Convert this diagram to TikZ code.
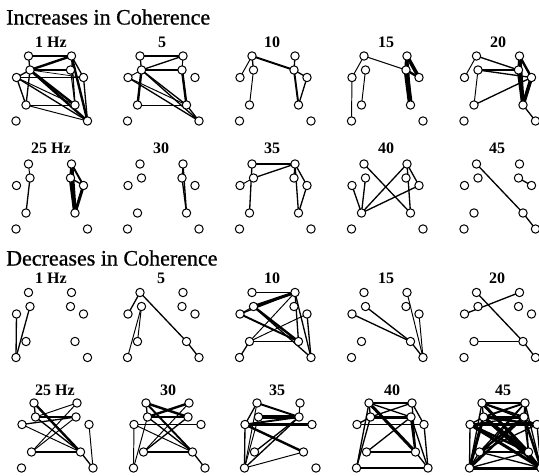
\documentclass[tikz,border=0pt]{standalone}
\usepackage{fontspec}
\setmainfont{Liberation Serif}
\newfontfamily\ttlfont[FakeBold=0.8]{Liberation Serif}
\pgfdeclarelayer{bg}
\pgfsetlayers{bg,main}
\tikzset{
 el/.style={circle,draw,fill=white,line width=1pt,minimum size=8.4pt,inner sep=0pt},
 ttl/.style={anchor=west,inner sep=0pt,font=\ttlfont\fontsize{22}{22}\selectfont},
 lbl/.style={inner sep=0pt,font=\fontsize{16}{16}\selectfont\bfseries}
}
\newcommand{\elec}[3]{%
 \node[el] (#1la) at ({#2-23},{#3}) {};
 \node[el] (#1lb) at ({#2-21.5},{#3+14}) {};
 \node[el] (#1lc) at ({#2-35},{#3+21.5}) {};
 \node[el] (#1ld) at ({#2-25.5},{#3+49}) {};
 \node[el] (#1le) at ({#2-35.5},{#3+65}) {};
 \node[el] (#1ra) at ({#2+20},{#3}) {};
 \node[el] (#1rb) at ({#2+19},{#3+14}) {};
 \node[el] (#1rc) at ({#2+32},{#3+21.5}) {};
 \node[el] (#1rd) at ({#2+23.5},{#3+49}) {};
 \node[el] (#1re) at ({#2+36},{#3+65}) {};
}
\newcommand{\links}[2]{\begin{pgfonlayer}{bg}\foreach \u/\v/\w in {#2}{\draw[line width={1.2*\w pt}] (#1\u.center) -- (#1\v.center);}\end{pgfonlayer}}
\begin{document}
\begin{tikzpicture}[x=1pt,y=-1pt]
\useasboundingbox (0,0) rectangle (539,476);
\node[ttl] (tinc) at (6,17) {Increases in Coherence};
\node[ttl] (tdec) at (6,258) {Decreases in Coherence};
% labels
\node[lbl] (a1) at (51,42) {1 Hz};
\node[lbl] (a2) at (162,42) {5};
\node[lbl] (a3) at (272,42) {10};
\node[lbl] (a4) at (386,42) {15};
\node[lbl] (a5) at (498,42) {20};
\node[lbl] (a6) at (51,148) {25 Hz};
\node[lbl] (a7) at (161,148) {30};
\node[lbl] (a8) at (272,148) {35};
\node[lbl] (a9) at (386,148) {40};
\node[lbl] (a10) at (497,148) {45};
\node[lbl] (b1) at (51,278) {1 Hz};
\node[lbl] (b2) at (161,278) {5};
\node[lbl] (b3) at (272,278) {10};
\node[lbl] (b4) at (386,278) {15};
\node[lbl] (b5) at (497,278) {20};
\node[lbl] (b6) at (55,390) {25 Hz};
\node[lbl] (b7) at (168,390) {30};
\node[lbl] (b8) at (277,390) {35};
\node[lbl] (b9) at (392,390) {40};
\node[lbl] (b10) at (503,390) {45};
% electrodes
\elec{pa}{51.5}{56}\elec{pb}{163}{56}\elec{pc}{275}{56}\elec{pd}{387}{56}\elec{pe}{499.5}{56}
\elec{pf}{51.5}{164}\elec{pg}{163}{164}\elec{ph}{275}{164}\elec{pi}{387}{164}\elec{pj}{499.5}{164}
\elec{qa}{51.5}{292.5}\elec{qb}{163}{292.5}\elec{qc}{275}{292.5}\elec{qd}{387}{292.5}\elec{qe}{499.5}{292.5}
\elec{qf}{57}{403}\elec{qg}{169}{403}\elec{qh}{280}{403}\elec{qi}{392}{403}\elec{qj}{505}{403}
% increases
\links{pa}{la/ra/1.1, la/lb/1.1, lb/ra/2, lb/rb/1.1, lb/rc/0.6, lc/rc/0.8, lb/lc/1.1, lc/ld/1.1, lb/ld/1.1, ld/rd/0.8, lb/rd/2, lb/re/2, lc/re/1.1, lc/rd/0.8, ld/re/0.8, ra/rc/1.1, ra/re/2, ra/rd/1.1, rb/rd/0.8, rc/re/1.1}
\links{pb}{la/ra/1.1, la/lb/1.1, lb/ra/1.1, lb/rb/1.1, lb/ld/2, lb/rd/1.1, lb/re/1.1, lc/re/1.1, lc/rd/0.8, ld/rd/0.8, rb/rd/2, rd/re/1.1, ra/rb/0.8, lc/lb/0.8}
\links{pc}{la/lc/0.8, la/lb/1.1, la/rb/1.6, lb/ld/0.8, ra/rb/1.1, rb/rc/1.1, rb/rd/1.6, rc/rd/1.1}
\links{pd}{la/lc/0.8, la/rb/0.8, lb/ld/0.8, lc/le/0.8, ra/rb/3, ra/rc/3, rb/rc/2, rb/rd/4, ra/rd/2}
\links{pe}{la/lc/0.8, la/rb/1.1, lb/rb/1.6, lb/rc/1.1, lb/ld/0.8, ld/rc/1.1, ra/rb/2, ra/rd/3, ra/rc/2, rb/rd/3, rc/rd/3, rd/re/1.1}
\links{pf}{la/lb/0.8, lb/ld/1.1, ra/rb/2, ra/rc/1.6, ra/rd/3, rb/rd/3, rc/rd/2.5, rb/rc/1.1}
\links{pg}{ra/rb/0.8, ra/rd/1.1, rb/rd/1.1}
\links{ph}{la/ra/1.1, lb/ra/1.1, lc/lb/0.8, la/ld/1.1, ra/rb/1.1, ra/rd/1.1, ra/rc/1.1, rc/rd/1.1}
\links{pi}{lc/ld/1.1, lb/ld/1.1, la/rd/1.1, ld/ra/1.1, ld/rc/1.1, ra/rd/1.1, ra/rc/1.1}
\links{pj}{la/rd/1.1, rb/rc/1.1, rd/re/1.1}
% decreases
\links{qa}{lc/le/1.1, lb/le/1.1}
\links{qb}{la/lc/1.1, la/rd/1.1, rd/re/1.1, lb/le/0.8, lb/ld/0.8}
\links{qc}{la/ra/1.1, lb/ra/2.5, lc/ra/1.1, ld/ra/0.8, ra/rd/1.1, ra/re/1.1, lb/rd/2, lb/re/1.1, lc/rd/1.6, lc/lb/0.8, ld/rc/0.8, ld/rd/0.8, ld/le/1.1, rc/re/1.1}
\links{qd}{lb/rd/1.1, lc/rd/1.1, rd/re/1.1, ra/re/0.8, rc/re/0.8}
\links{qe}{lc/ra/1.1, la/rd/1.1, rd/re/1.1, ld/rd/1.1}
\links{qf}{la/rd/2, lb/ra/0.8, lb/rb/2, lc/rb/1.1, lc/rd/0.8, ld/rb/0.8, ld/ra/0.8, ld/rd/1.1, rc/re/0.8, rd/re/1.1, la/lb/1.1, lb/rd/1.1}
\links{qg}{la/rb/2, la/rd/1.6, lb/ra/2, lb/rb/2, lc/rc/1.1, lc/le/0.8, le/lb/0.8, ld/rd/2, ld/rb/1.1, ld/ra/0.8, lb/rd/1.1, rd/re/1.1, la/lb/1.1, lc/rd/0.8}
\links{qh}{la/rb/1.6, la/le/0.8, lb/rb/3.5, lc/rc/2, lc/rb/1.6, lc/le/1.1, lc/rd/2, ld/rb/1.1, le/rb/1.1, le/rd/0.8, lb/le/0.8, la/lc/1.1, ra/rb/0.8}
\links{qi}{la/ra/1.1, la/rb/1.1, la/rd/2.5, la/le/1.1, lb/le/1.1, lb/rb/2.5, lb/ra/1.1, lc/rc/1.1, ld/rd/1.1, le/re/1.1, ld/rb/1.1, ra/rd/1.1, ra/rc/1.1, rb/rd/2, rb/re/1.1, rc/re/1.1, rd/re/1.1, lc/lb/1.1, la/lb/1.1}
\links{qj}{la/ra/1.6, la/lb/1.1, la/rb/1.6, la/rc/1.1, la/rd/2.5, la/re/1.1, la/le/1.1, lb/ra/1.6, lb/rb/2.5, lb/rc/2, lb/rd/2.5, lb/re/2.5, lb/le/2.5, lc/rc/2.5, lc/rb/1.1, lc/rd/2, lc/re/2.5, lc/le/1.1, lc/lb/1.1, ld/ra/1.1, ld/rb/2, ld/rc/1.1, ld/rd/2, ld/re/1.1, le/re/2.5, le/rd/1.1, le/rb/2, le/ra/1.1, ra/rd/1.1, ra/re/1.1, rb/rd/1.1, rb/re/2, rc/re/1.1, rd/re/1.1, le/ld/1.1, ra/rb/1.1}
\end{tikzpicture}
\end{document}
